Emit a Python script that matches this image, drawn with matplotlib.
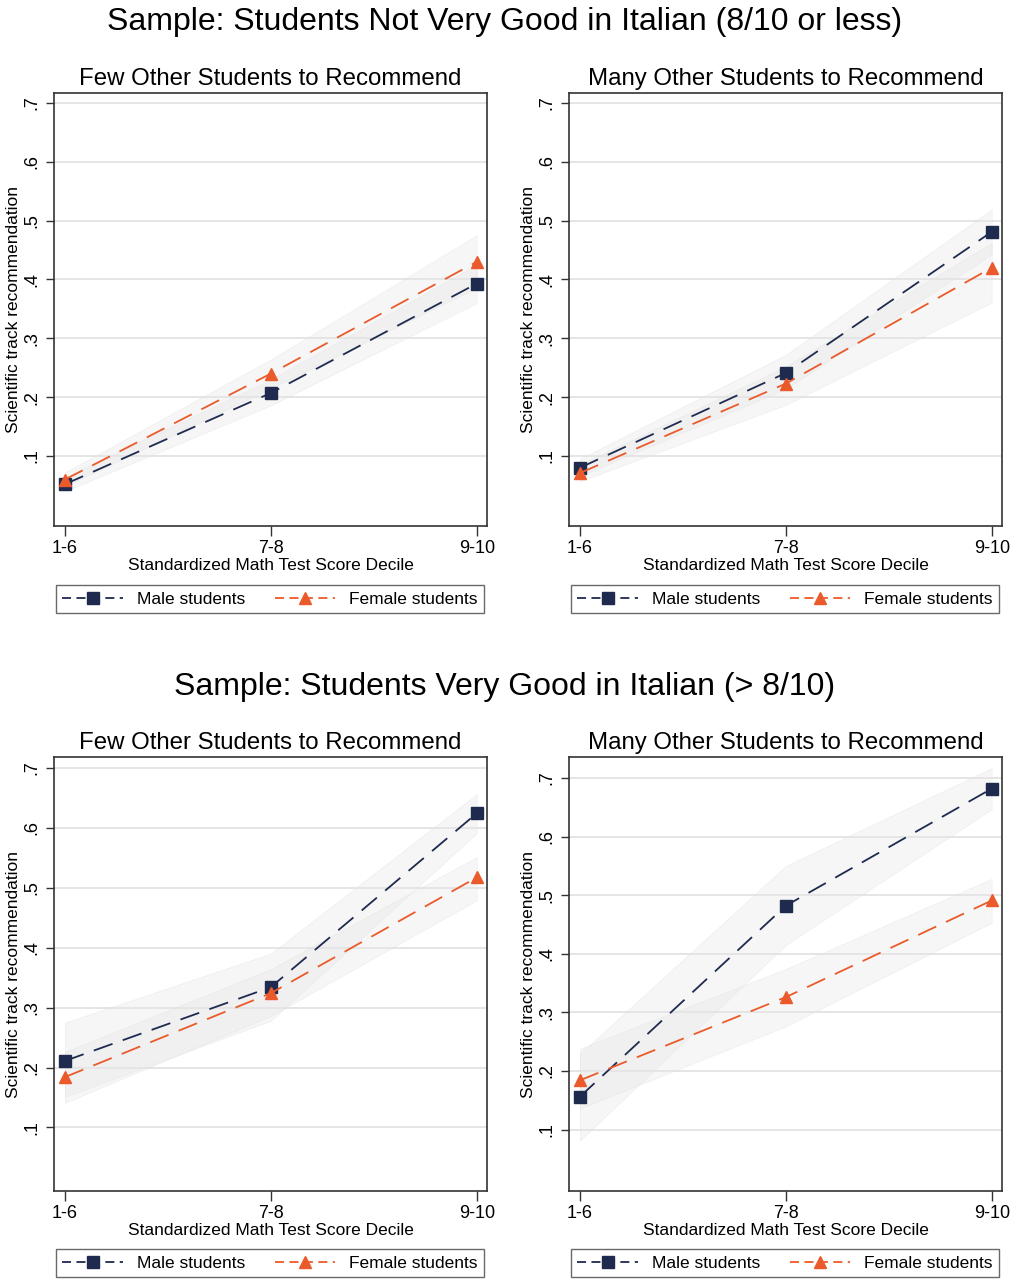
import matplotlib
matplotlib.use("Agg")
import matplotlib.pyplot as plt
from matplotlib.lines import Line2D

plt.rcParams['font.family'] = ['Liberation Sans', 'DejaVu Sans']

# ---------------- data ----------------
categories = ["1-6", "7-8", "9-10"]
ytick_vals = [0.1, 0.2, 0.3, 0.4, 0.5, 0.6, 0.7]
ytick_labels = [".1", ".2", ".3", ".4", ".5", ".6", ".7"]

row_titles = ["Sample: Students Not Very Good in Italian (8/10 or less)",
              "Sample: Students Very Good in Italian (> 8/10)"]
col_titles = ["Few Other Students to Recommend", "Many Other Students to Recommend"]

# Top-left: not very good, few others
tl_male = [0.052, 0.207, 0.393]
tl_male_lo = [0.040, 0.186, 0.360]
tl_male_hi = [0.064, 0.230, 0.425]
tl_female = [0.060, 0.240, 0.430]
tl_female_lo = [0.049, 0.215, 0.386]
tl_female_hi = [0.072, 0.264, 0.475]

# Top-right: not very good, many others
tr_male = [0.080, 0.241, 0.481]
tr_male_lo = [0.066, 0.214, 0.443]
tr_male_hi = [0.095, 0.272, 0.519]
tr_female = [0.071, 0.223, 0.420]
tr_female_lo = [0.057, 0.187, 0.361]
tr_female_hi = [0.085, 0.252, 0.462]

# Bottom-left: very good, few others
bl_male = [0.211, 0.334, 0.624]
bl_male_lo = [0.151, 0.278, 0.591]
bl_male_hi = [0.275, 0.390, 0.656]
bl_female = [0.184, 0.324, 0.517]
bl_female_lo = [0.141, 0.286, 0.479]
bl_female_hi = [0.226, 0.364, 0.551]

# Bottom-right: very good, many others
br_male = [0.156, 0.482, 0.682]
br_male_lo = [0.081, 0.415, 0.647]
br_male_hi = [0.229, 0.550, 0.717]
br_female = [0.184, 0.326, 0.491]
br_female_lo = [0.136, 0.276, 0.453]
br_female_hi = [0.238, 0.374, 0.528]

panels = [
    (tl_male, tl_male_lo, tl_male_hi, tl_female, tl_female_lo, tl_female_hi),
    (tr_male, tr_male_lo, tr_male_hi, tr_female, tr_female_lo, tr_female_hi),
    (bl_male, bl_male_lo, bl_male_hi, bl_female, bl_female_lo, bl_female_hi),
    (br_male, br_male_lo, br_male_hi, br_female, br_female_lo, br_female_hi),
]
ylims = [(-0.019, 0.717), (-0.019, 0.717), (-0.006, 0.718), (-0.005, 0.736)]

# ---------------- layout ----------------
W, H = 1011, 1279
fig = plt.figure(figsize=(W / 100, H / 100), dpi=100)
fig.patch.set_facecolor("white")

# axes boxes in pixels (x0, y0_top, x1, y1_bottom)
boxes = [(54, 93, 487, 526), (569, 93, 1002, 526),
         (54, 757, 487, 1191), (569, 757, 1002, 1191)]
legend_centers = [(270, 599), (785, 599), (270, 1263), (785, 1263)]

navy = "#1f2a4f"
orange = "#ea5a2a"
band_color = "#e6e6e6"

def px_rect(b):
    x0, y0, x1, y1 = b
    return [x0 / W, 1 - y1 / H, (x1 - x0) / W, (y1 - y0) / H]

xpos = list(range(len(categories)))

for i, (b, pdata) in enumerate(zip(boxes, panels)):
    m, mlo, mhi, f, flo, fhi = pdata
    ax = fig.add_axes(px_rect(b))
    ax.set_facecolor("white")
    ax.fill_between(xpos, mlo, mhi, color=band_color, alpha=0.35, linewidth=0.6,
                    edgecolor="#dddddd", zorder=1)
    ax.fill_between(xpos, flo, fhi, color=band_color, alpha=0.35, linewidth=0.6,
                    edgecolor="#dddddd", zorder=1)
    ax.plot(xpos, m, color=navy, linestyle=(0, (11, 6)), linewidth=1.3,
            marker="s", markersize=8, markerfacecolor=navy, markeredgecolor=navy, zorder=3)
    ax.plot(xpos, f, color=orange, linestyle=(0, (11, 6)), linewidth=1.3,
            marker="^", markersize=8.5, markerfacecolor=orange, markeredgecolor=orange, zorder=3)

    ax.set_xlim(-0.053, 2.05)
    ax.set_ylim(*ylims[i])
    ax.set_xticks(xpos)
    ax.set_xticklabels(categories, fontsize=13)
    ax.set_yticks(ytick_vals)
    ax.set_yticklabels(ytick_labels, fontsize=13, rotation=90, va="center")
    ax.tick_params(axis="both", direction="out", length=7, width=1, color="#333333")
    ax.tick_params(axis="x", pad=3)
    ax.tick_params(axis="y", length=6, pad=4)
    ax.yaxis.grid(True, color="#e3e3e3", linewidth=1.3, zorder=0)
    ax.set_axisbelow(True)
    for s in ax.spines.values():
        s.set_color("#333333")
        s.set_linewidth(1.2)
    ax.set_xlabel("Standardized Math Test Score Decile", fontsize=12.5, labelpad=1)
    ax.set_ylabel("Scientific track recommendation", fontsize=12.5, labelpad=1.5)
    ax.set_title(col_titles[i % 2], fontsize=17.3, pad=6)

    handles = [
        Line2D([], [], color=navy, linestyle=(0, (5, 3)), linewidth=1.3,
               marker="s", markersize=8, markerfacecolor=navy, markeredgecolor=navy),
        Line2D([], [], color=orange, linestyle=(0, (5, 3)), linewidth=1.3,
               marker="^", markersize=8.5, markerfacecolor=orange, markeredgecolor=orange),
    ]
    cx, cy = legend_centers[i]
    leg = fig.legend(handles, ["Male students", "Female students"],
                     loc="center", bbox_to_anchor=(cx / W, 1 - cy / H),
                     ncol=2, fontsize=12.5, frameon=True, fancybox=False,
                     handlelength=3.5, columnspacing=1.7, handletextpad=0.8,
                     borderpad=0.35, borderaxespad=0)
    leg.get_frame().set_edgecolor("#444444")
    leg.get_frame().set_linewidth(1.0)

fig.text(505 / W, 1 - 22 / H, row_titles[0], fontsize=23, ha="center", va="center")
fig.text(505 / W, 1 - 687 / H, row_titles[1], fontsize=23, ha="center", va="center")

fig.savefig("out.png", dpi=100, facecolor="white")
